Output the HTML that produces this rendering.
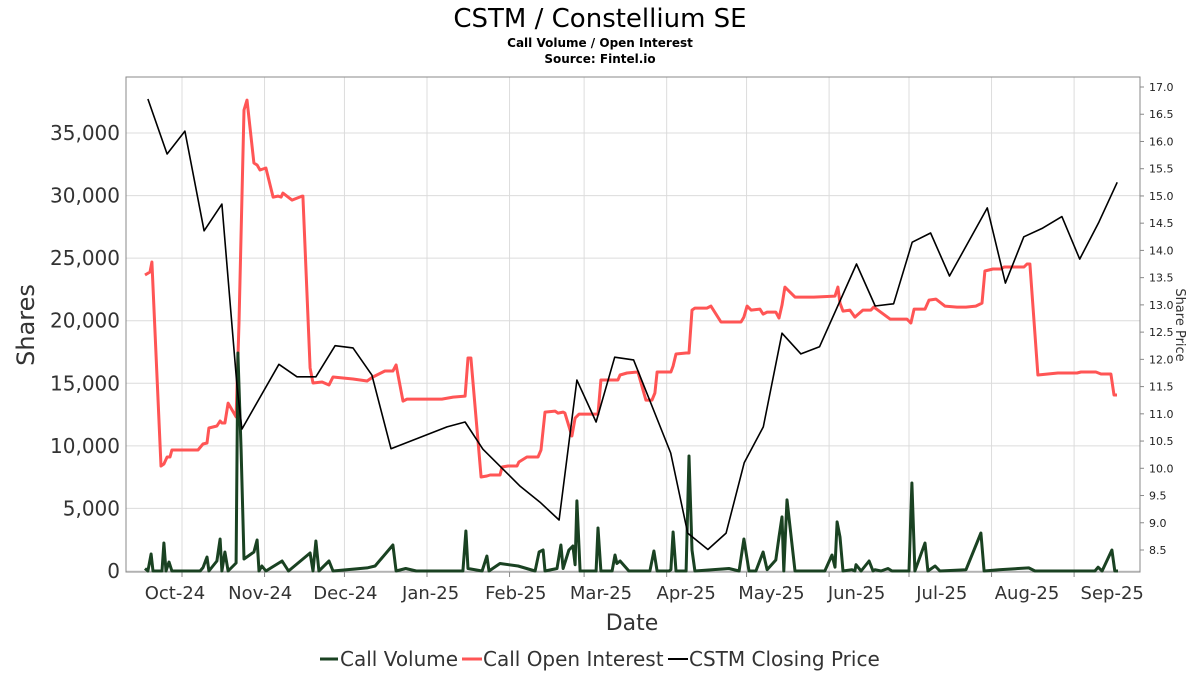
<!DOCTYPE html>
<html><head><meta charset="utf-8"><style>
body{margin:0;background:#fff;font-family:"Liberation Sans","DejaVu Sans",sans-serif}
svg text{font-family:"DejaVu Sans","Liberation Sans",sans-serif}
</style></head><body>
<svg id="c" width="1200" height="675" viewBox="0 0 1200 675" xmlns="http://www.w3.org/2000/svg">
<rect width="1200" height="675" fill="#fff"/>
<text x="600" y="27" text-anchor="middle" font-size="26">CSTM / Constellium SE</text>
<text x="600" y="47" text-anchor="middle" font-size="12" font-weight="bold">Call Volume / Open Interest</text>
<text x="600" y="63" text-anchor="middle" font-size="12" font-weight="bold">Source: Fintel.io</text>
<g id="grid"></g><g id="axes"></g><g id="series"></g>
<text transform="translate(34,325) rotate(-90)" text-anchor="middle" font-size="24" fill="#333">Shares</text>
<text transform="translate(1176,325) rotate(90)" text-anchor="middle" font-size="13" fill="#333">Share Price</text>
<text x="632" y="630" text-anchor="middle" font-size="22" fill="#333">Date</text>
<g font-size="20" fill="#333">
<g><line x1="320" y1="659" x2="338" y2="659" stroke="#1a4222" stroke-width="3"/><text x="340" y="666">Call Volume</text></g>
<g><line x1="462" y1="659" x2="482" y2="659" stroke="#ff5555" stroke-width="3"/><text x="483" y="666">Call Open Interest</text></g>
<g><line x1="668" y1="659" x2="688" y2="659" stroke="#000" stroke-width="2"/><text x="689" y="666">CSTM Closing Price</text></g>
</g>
</svg>
<script>
// days since 2024-10-01
const priceDays=[-12.8,-5.6,1.1,8.3,15.0,20.7,22.5,36.4,43.2,50.3,57.5,64.2,71.3,78.5,99.5,106.3,113,127,134.4,141.6,148.3,155.5,162.5,169.6,183.5,189.9,197.5,204.3,211.1,218.3,225.3,232.4,239.4,253.3,260.3,267.2,274.2,281.1,288.2,302.4,309.2,316.1,323.2,330.4,337.1,344.3,351.2];
const priceVals=[16.78,15.77,16.19,14.36,14.85,11.49,10.72,11.91,11.68,11.68,12.25,12.21,11.71,10.36,10.76,10.85,10.35,9.67,9.38,9.05,11.62,10.85,12.04,11.99,10.28,8.81,8.51,8.81,10.10,10.76,12.48,12.10,12.23,13.75,12.98,13.02,14.15,14.32,13.53,14.78,13.40,14.25,14.41,14.62,13.84,14.52,15.25];
const oiDays=[-13.9,-12,-11.3,-7.9,-6.8,-5.6,-4.5,-3.8,1.1,6,7.9,9.4,10.1,13.1,14.3,15,16.1,17.3,20.3,21.4,23.3,24.4,27,28.2,29.3,31.5,34.2,36,37.2,37.9,41.3,45.1,45.4,48.1,49.2,52.6,55.2,56.7,64.2,69.5,71.7,76.2,79.2,80.4,83,84.5,89.4,97.6,101.8,106.3,107.4,108.5,112.3,114.5,115.7,119.4,120.2,122.4,125.8,126.5,129.5,133.7,134.8,136.3,140.1,141.2,143.1,143.8,146.4,147.6,149.1,156.2,157.3,163.7,164.5,167.1,171.2,174.2,176.5,177.6,178.4,183.6,184.4,185.5,189.3,190.4,191.5,192.6,197.1,198.6,202.4,209.9,211,212.2,213.7,217,218.2,219.7,223,224.2,225.3,226.4,230.2,237.3,245.2,246.3,247.1,248.2,250.8,252.7,253.1,255.7,258.7,259.8,265.9,272.2,273.7,274.9,279,280.5,283.1,286.5,291,294.4,298.1,300.4,301.5,304.5,307.5,308.7,316.2,317.3,318.4,321.4,328.9,336.1,337.6,343.2,345.1,348.8,350,351.1];
const oiVals=[23650,23890,24690,8390,8550,9110,9110,9670,9670,9670,10150,10230,11430,11590,11990,11830,11830,13420,12310,19820,36840,37630,32600,32440,32040,32200,29880,29960,29880,30200,29640,29960,29960,16220,15020,15100,14860,15500,15340,15180,15500,15980,15980,16460,13580,13740,13740,13740,13900,13980,17020,17020,7510,7590,7670,7670,8310,8390,8390,8710,9110,9110,9670,12700,12780,12620,12700,12620,10790,12220,12540,12540,15260,15260,15660,15820,15900,13660,13660,14220,15900,15900,16380,17340,17420,17420,20850,21010,21010,21170,19900,19900,20290,21170,20850,20930,20530,20690,20690,20210,21250,22690,21890,21890,21970,22690,21410,20770,20850,20290,20370,20850,20850,21090,20130,20130,19820,20930,20930,21650,21730,21170,21090,21090,21170,21410,23970,24130,24130,24290,24290,24530,24530,15660,15820,15820,15900,15900,15740,15740,14060,14060];
const volDays=[-13.9,-12.8,-11.6,-10.9,-7.5,-6.8,-6,-4.9,-3.8,6.8,7.9,9.4,10.1,13.1,14.3,15,16.1,17.3,20.3,21,22.2,23.3,27,28.2,28.9,30,31.5,37.6,40,48.1,49.2,50.3,51.4,55.2,56.7,69.5,72.5,79.2,80.4,84,88,105.5,106.6,107.4,112.7,114.5,115.3,119.4,126.2,132.6,134.1,135.6,136.3,140.8,142.3,143.1,145.3,146.8,147.6,148.3,149.5,155.5,156.2,157.3,161.5,162.6,163.3,164.5,167.8,175.7,177.2,178.4,182.9,183.6,184.4,185.5,189.3,190.4,191.5,192.6,205.4,209.2,211,212.9,215.5,218.2,219.7,223,224.2,225.3,226,227.2,230.2,241.4,244.1,245.2,246,247.1,248.2,251.6,252.7,253.1,255,258,259.5,260.2,262.5,265.1,266.6,273,274.1,275.2,279,280.1,282.8,284.6,294.4,300,301.2,306.8,318,320.3,330.4,342.8,344,345.5,349.2,350.3,351.5];
const volVals=[200,0,1360,0,0,2240,0,720,0,0,270,1120,0,800,2560,0,1520,0,640,17420,9670,960,1520,2480,0,400,0,800,0,1440,0,2400,0,800,0,250,400,2080,0,200,0,0,3200,200,0,1200,0,600,400,0,1520,1680,0,200,2080,200,1680,2000,500,5600,0,0,3440,0,0,1280,600,800,0,0,1600,0,0,100,3120,0,0,9190,1680,0,200,0,2560,0,0,1520,100,880,2720,4320,0,5680,0,0,1280,300,3920,2720,0,100,0,500,0,800,0,100,0,200,0,0,7030,0,2240,0,400,0,100,3040,0,100,250,0,0,0,300,0,1680,0,0];
const leftTicks=[0,5000,10000,15000,20000,25000,30000,35000];
const rightTicks=[8.5,9.0,9.5,10.0,10.5,11.0,11.5,12.0,12.5,13.0,13.5,14.0,14.5,15.0,15.5,16.0,16.5,17.0];
const monthLabels=["Oct-24","Nov-24","Dec-24","Jan-25","Feb-25","Mar-25","Apr-25","May-25","Jun-25","Jul-25","Aug-25","Sep-25"];
const monthStarts=[0,31,61,92,123,151,182,212,243,273,304,335];

const NS="http://www.w3.org/2000/svg";
const L=126,R=1140,T=77,B=572;
const xS=d=>182+d*2.663;
const yL=v=>571-v*(438/35000);
const yR=p=>87+(17-p)*(463/8.5);
function mk(tag,attrs,parent,txt){const e=document.createElementNS(NS,tag);for(const k in attrs)e.setAttribute(k,attrs[k]);if(txt!==undefined)e.textContent=txt;parent.appendChild(e);return e;}
const grid=document.getElementById('grid'),axes=document.getElementById('axes'),ser=document.getElementById('series');
leftTicks.forEach(v=>{
  const g=mk('line',{x1:L,x2:R,y1:yL(v),y2:yL(v),stroke:'#dcdcdc','stroke-width':1},grid);
  
  
  const t=mk('text',{x:L-6,y:yL(v)+7,'text-anchor':'end','font-size':20,fill:'#333'},axes,v.toLocaleString('en-US'));
  
  
});
monthStarts.forEach((d,i)=>{
  const x=xS(d);
  const g=mk('line',{x1:x,x2:x,y1:T,y2:B,stroke:'#dcdcdc','stroke-width':1},grid);
  
  
  mk('line',{x1:x,x2:x,y1:B,y2:B+5,stroke:'#888'},axes);
  const t=mk('text',{x:175+i*85.2,y:599,'text-anchor':'middle','font-size':18,fill:'#333'},axes,monthLabels[i]);
  
  
});
rightTicks.forEach(p=>{
  mk('line',{x1:R,x2:R+4,y1:yR(p),y2:yR(p),stroke:'#888'},axes);
  const t=mk('text',{x:R+9,y:yR(p)+4,'font-size':11,fill:'#222'},axes,p.toFixed(1));
  
  
});
const fr=mk('rect',{x:L,y:T,width:R-L,height:B-T,fill:'none',stroke:'#888','stroke-width':1},axes);


function line(days,vals,yf,color,w,name){
  const n=Math.min(days.length,vals.length);
  const pts=[];
  for(let i=0;i<n;i++)pts.push(xS(days[i]).toFixed(1)+','+yf(vals[i]).toFixed(1));
  const p=mk('polyline',{points:pts.join(' '),fill:'none',stroke:color,'stroke-width':w,'stroke-linejoin':'round'},ser);
  
  
}
line(oiDays,oiVals,yL,'#ff5555',3,'call-open-interest-line');
line(volDays,volVals,yL,'#1a4222',3,'call-volume-line');
line(priceDays,priceVals,yR,'#000',1.6,'closing-price-line');
</script>
</body></html>
